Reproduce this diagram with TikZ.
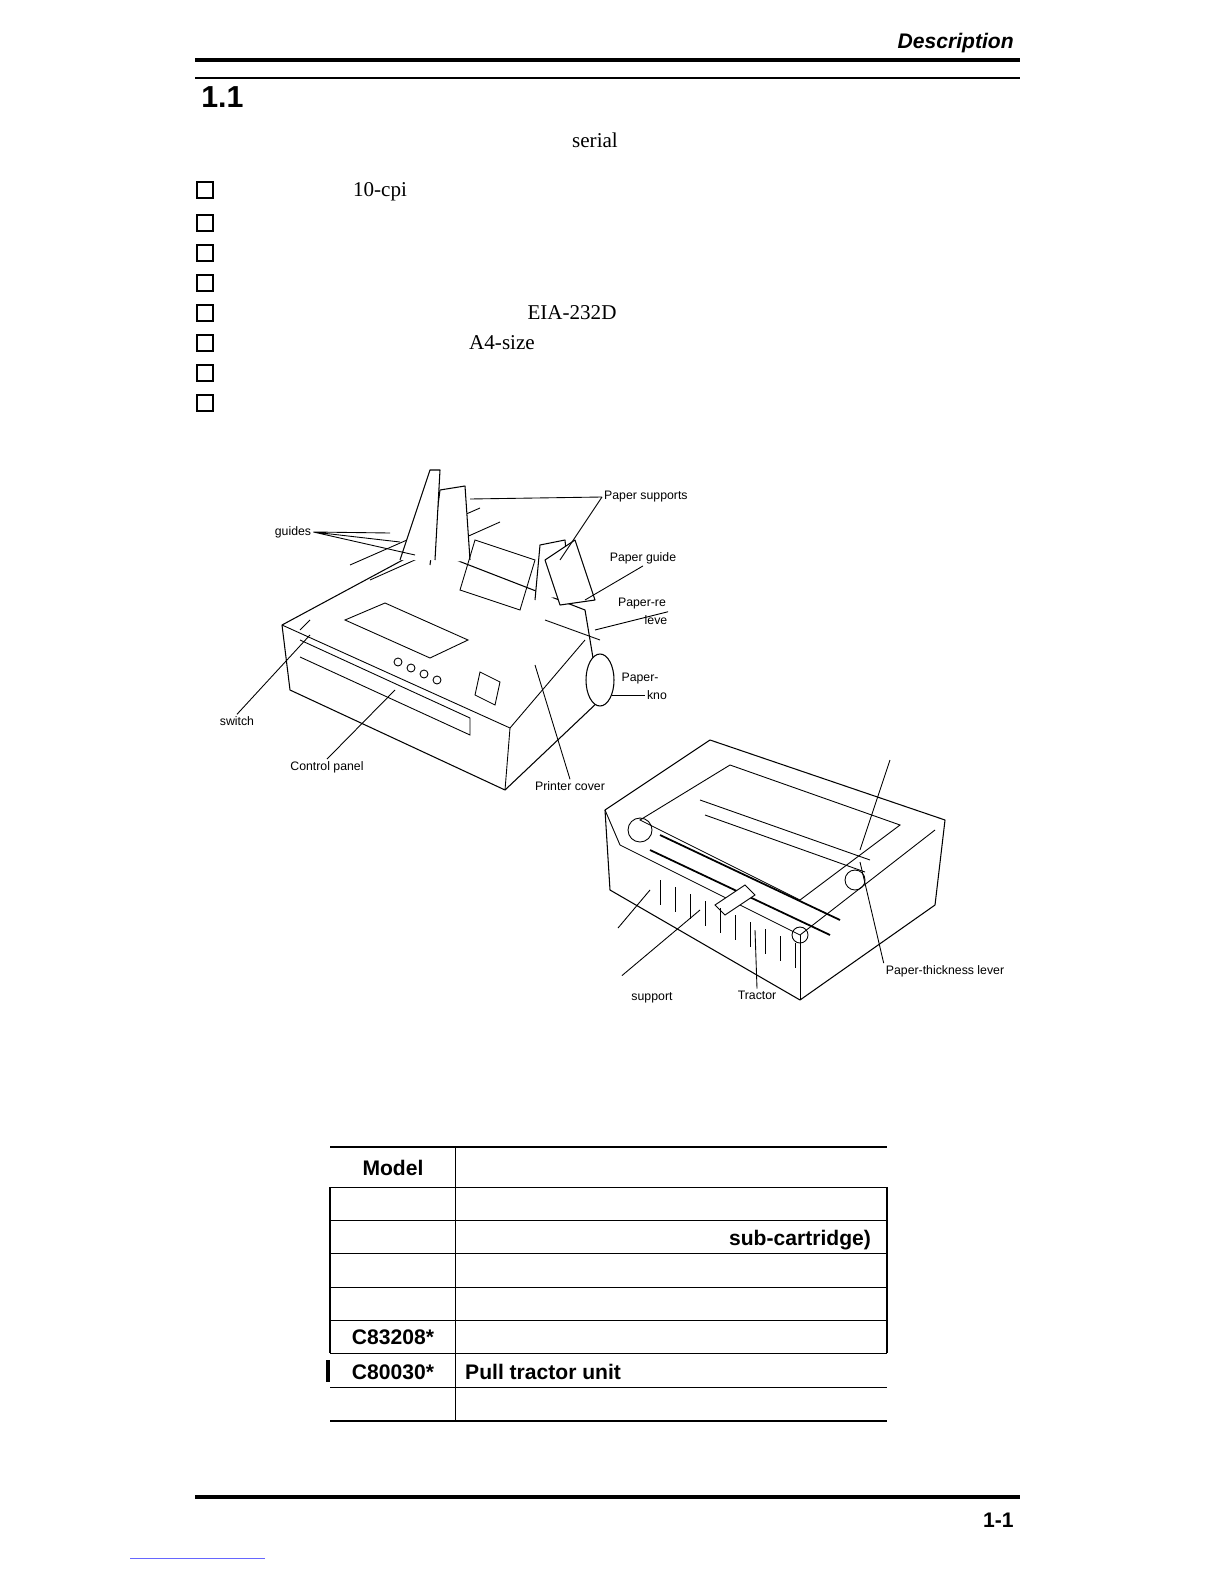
\documentclass[tikz,border=0pt]{standalone}
\usepackage{fontspec}
\setmainfont{Liberation Serif}
\setsansfont{Liberation Sans}
\begin{document}
\tikzstyle{lbl} = [font=\sffamily\scriptsize, inner sep=1pt]
\tikzstyle{tbl} = [font=\sffamily\bfseries\large, inner sep=1pt]
\tikzstyle{box} = [draw, line width=0.7pt, minimum size=9pt, inner sep=0pt]
\tikzstyle{body} = [draw, line width=0.6pt, fill=white, line join=round]
\begin{tikzpicture}[x=0.02cm,y=-0.02cm,line width=0.5pt]
\useasboundingbox (0,0) rectangle (1224,1584);

% header
\node[font=\sffamily\bfseries\itshape\large, anchor=east] (desc) at (1020,43) {Description};
\draw[line width=2pt] (195,60) -- (1020,60);
\draw[line width=1pt] (195,78) -- (1020,78);
\node[font=\sffamily\bfseries\LARGE, anchor=west] (sec) at (195,97) {1.1};
\node[font=\large] (serial) at (595,140) {serial};

% bullet boxes
\foreach \y in {190,223,253,283,313,343,373,403}
  \node[box] at (205,\y) {};
\node[font=\large] (cpi) at (380,192) {10-cpi};
\node[font=\large] (eia) at (572,313) {EIA-232D};
\node[font=\large] (a4) at (502,343) {A4-size};

% printer 1
\draw[body] (282,625) -- (425,548) -- (585,610) -- (600,700) -- (505,790) -- (290,690) -- cycle;
\draw (282,625) -- (510,728) -- (585,640);
\draw (510,728) -- (505,790);
\draw (300,640) -- (470,718) -- (470,735) -- (300,657);
\draw (345,620) -- (430,658) -- (468,640) -- (385,603) -- cycle;
\foreach \i in {0,1,2,3} \draw (398+\i*13,662+\i*6) circle (4);
\draw (480,672) -- (500,682) -- (495,705) -- (475,695) -- cycle;
\draw (350,565) -- (480,508) (370,580) -- (500,522);
\draw[body] (430,565) -- (440,490) -- (465,486) -- (470,560);
\draw[body] (535,600) -- (540,545) -- (565,540) -- (570,595);
\draw[body] (400,560) -- (430,470) -- (440,470) -- (435,560);
\draw[body] (560,605) -- (545,560) -- (575,540) -- (595,600) -- cycle;
\draw (460,590) -- (475,540) -- (535,560) -- (520,610) -- cycle;
\draw[body] (600,680) ellipse (14 and 26);
\draw (545,620) -- (600,640) (300,630) -- (310,620);
% printer 1 labels
\node[lbl, anchor=west] (psup) at (602,497) {Paper supports};
\node[lbl] (guides) at (293,532) {guides};
\node[lbl] (pguide) at (643,558) {Paper guide};
\node[lbl] (prel) at (642,604) {Paper-re};
\node[lbl] (leve) at (656,620) {leve};
\node[lbl] (pknob) at (640,679) {Paper-};
\node[lbl] (kno) at (657,695) {kno};
\node[lbl] (switch) at (237,721) {switch};
\node[lbl] (cpanel) at (327,767) {Control panel};
\node[lbl] (pcover) at (570,786) {Printer cover};
\coordinate (s1) at (470,499); \coordinate (s2) at (560,560);
\draw (psup.west) -- (s1) (psup.west) -- (s2);
\draw (guides.east) -- (400,542) (guides.east) -- (415,555) (guides.east) -- (390,533);
\coordinate (g1) at (585,600); \draw (pguide.south) -- (g1);
\coordinate (r1) at (595,630); \draw (prel.south east) -- (r1);
\coordinate (k1) at (612,695); \draw (kno.west) -- (k1);
\coordinate (w1) at (310,635); \draw (switch.north) -- (w1);
\coordinate (c1) at (395,690); \draw (cpanel.north) -- (c1);
\coordinate (v1) at (535,665); \draw (pcover.north) -- (v1);

% printer 2
\draw[body] (605,810) -- (710,740) -- (945,820) -- (935,905) -- (800,1000) -- (610,890) -- cycle;
\draw (605,810) -- (620,845) -- (800,935) -- (935,830);
\draw (800,935) -- (800,1000);
\draw (640,820) -- (730,765) -- (900,825) -- (800,900) -- cycle;
\draw[line width=1pt] (650,850) -- (830,935) (660,835) -- (840,920);
\draw (700,800) -- (870,860) (705,815) -- (865,872);
\draw[fill=white] (715,905) -- (745,885) -- (755,895) -- (725,915) -- cycle;
\foreach \i in {0,...,9} \draw (660+\i*15,880+\i*7) -- (660+\i*15,905+\i*7);
\draw (640,830) circle (12) (855,880) circle (10) (800,935) circle (8);
% printer 2 labels
\node[lbl] (pthick) at (945,971) {Paper-thickness lever};
\node[lbl] (support) at (652,998) {support};
\node[lbl] (tractor) at (757,995) {Tractor};
\coordinate (a1) at (890,760); \coordinate (a2) at (860,850);
\draw (a1) -- (a2);
\coordinate (b1) at (860,862); \draw (pthick.north west) -- (b1);
\coordinate (d1) at (618,928); \coordinate (d2) at (650,890); \draw (d1) -- (d2);
\coordinate (e1) at (700,910); \draw (support.north) ++(-30,-15) -- (e1);
\coordinate (t1) at (755,930); \draw (tractor.north) -- (t1);

% table
\draw[line width=1pt] (330,1147) -- (887,1147);
\node[tbl] (model) at (393,1168) {Model};
\draw (455,1147) -- (455,1421);
\foreach \y in {1187,1220,1253,1287,1320,1353,1387} \draw (330,\y) -- (887,\y);
\draw[line width=1.5pt] (330,1421) -- (887,1421);
\draw[line width=1pt] (887,1187) -- (887,1353) (330,1187) -- (330,1353);
\draw[line width=2pt] (328,1360) -- (328,1382);
\node[tbl] (sub) at (800,1240) {sub-cartridge)};
\node[tbl] (m1) at (393,1337) {C83208*};
\node[tbl] (m2) at (393,1372) {C80030*};
\node[tbl, anchor=west] (pull) at (463,1372) {Pull tractor unit};

% footer
\draw[line width=2pt] (195,1497) -- (1020,1497);
\node[font=\sffamily\bfseries\large, anchor=east] (page) at (1020,1520) {1-1};
\draw[blue!60] (130,1558) -- (265,1558);
\end{tikzpicture}
\end{document}
